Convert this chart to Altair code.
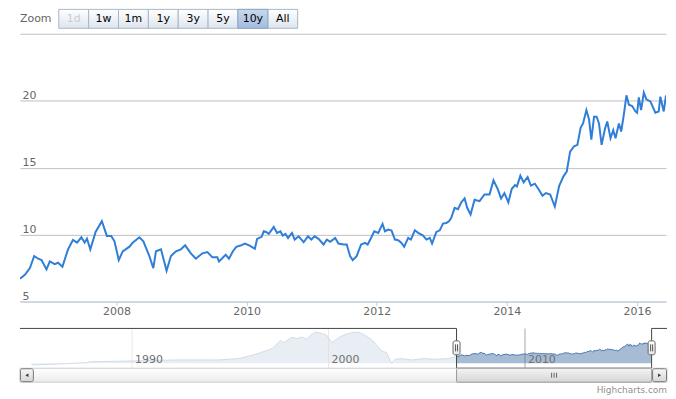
import altair as alt
import pandas as pd

# ---------------- data ----------------
# main series: decimal year, value
years = [2006.516, 2006.592, 2006.669, 2006.735, 2006.796, 2006.848, 2006.924, 2006.975, 2007.051, 2007.102,
         2007.169, 2007.255, 2007.331, 2007.393, 2007.46, 2007.51, 2007.546, 2007.598, 2007.679, 2007.775,
         2007.852, 2007.919, 2007.969, 2008.035, 2008.096, 2008.199, 2008.249, 2008.352, 2008.413, 2008.505,
         2008.566, 2008.607, 2008.684, 2008.77, 2008.837, 2008.914, 2008.99, 2009.056, 2009.143, 2009.22,
         2009.321, 2009.397, 2009.474, 2009.55, 2009.576, 2009.679, 2009.729, 2009.79, 2009.841, 2009.908,
         2009.974, 2010.046, 2010.127, 2010.162, 2010.23, 2010.265, 2010.3, 2010.341, 2010.418, 2010.468,
         2010.52, 2010.555, 2010.597, 2010.637, 2010.698, 2010.739, 2010.8, 2010.877, 2010.943, 2010.995,
         2011.045, 2011.106, 2011.183, 2011.233, 2011.285, 2011.362, 2011.412, 2011.489, 2011.539, 2011.591,
         2011.631, 2011.692, 2011.76, 2011.821, 2011.861, 2011.913, 2011.963, 2012.024, 2012.09, 2012.127,
         2012.178, 2012.228, 2012.28, 2012.331, 2012.381, 2012.422, 2012.484, 2012.525, 2012.586, 2012.637,
         2012.713, 2012.764, 2012.816, 2012.851, 2012.917, 2012.969, 2013.019, 2013.07, 2013.111, 2013.146,
         2013.198, 2013.249, 2013.299, 2013.351, 2013.391, 2013.443, 2013.504, 2013.581, 2013.657, 2013.734,
         2013.795, 2013.861, 2013.911, 2013.963, 2014.024, 2014.075, 2014.125, 2014.156, 2014.208, 2014.259,
         2014.32, 2014.37, 2014.431, 2014.473, 2014.549, 2014.6, 2014.667, 2014.738, 2014.805, 2014.871,
         2014.921, 2014.973, 2015.034, 2015.085, 2015.135, 2015.172, 2015.223, 2015.264, 2015.299, 2015.341,
         2015.38, 2015.417, 2015.457, 2015.509, 2015.544, 2015.594, 2015.636, 2015.671, 2015.723, 2015.758,
         2015.8, 2015.839, 2015.876, 2015.927, 2015.977, 2016.003, 2016.029, 2016.064, 2016.106, 2016.145,
         2016.207, 2016.283, 2016.335, 2016.36, 2016.412, 2016.447]
values = [6.7, 7.0, 7.5, 8.4, 8.2, 8.1, 7.4, 8.0, 7.8, 7.9,
          7.6, 8.9, 9.6, 9.4, 9.8, 9.4, 9.7, 8.9, 10.2, 11.0,
          9.9, 9.9, 9.5, 8.1, 8.75, 9.1, 9.4, 9.8, 9.5, 8.4,
          7.5, 8.75, 8.9, 7.3, 8.4, 8.75, 8.9, 9.2, 8.6, 8.2,
          8.6, 8.7, 8.3, 8.3, 8.0, 8.5, 8.2, 8.76, 9.09, 9.18,
          9.33, 9.18, 8.94, 9.68, 9.83, 10.25, 10.2, 10.05, 10.57, 10.13,
          10.25, 9.93, 10.05, 9.75, 10.13, 9.63, 9.87, 9.43, 9.87, 9.63,
          9.87, 9.68, 9.26, 9.63, 9.46, 9.75, 9.33, 9.26, 9.26, 8.39,
          8.09, 8.39, 9.26, 9.38, 9.26, 9.75, 10.25, 10.13, 10.8, 10.25,
          10.37, 10.3, 9.63, 9.58, 9.38, 9.09, 9.75, 9.63, 10.32, 10.13,
          9.93, 9.63, 9.75, 9.33, 10.2, 10.32, 10.82, 10.87, 10.99, 11.25,
          12.0, 11.9, 12.4, 12.7, 12.0, 11.5, 12.6, 12.5, 13.0, 13.0,
          14.05, 13.4, 12.7, 13.1, 12.4, 13.4, 13.7, 13.6, 14.4, 13.9,
          14.3, 13.65, 13.8, 13.5, 12.9, 13.1, 13.0, 12.1, 13.65, 14.35,
          14.7, 16.2, 16.6, 16.7, 18.0, 18.3, 19.3, 18.6, 17.1, 18.8,
          18.8, 18.3, 16.7, 17.9, 18.45, 17.2, 17.8, 17.2, 18.3, 17.7,
          19.0, 20.4, 19.7, 19.6, 19.2, 19.1, 20.25, 19.3, 20.6, 20.1,
          19.95, 19.1, 19.2, 20.3, 19.2, 20.4]

# long history shown in the navigator before the visible range
nav_years = [1984.88, 1986.32, 1987.73, 1987.84, 1990.0, 1992.4, 1994.42, 1995.44, 1996.11, 1996.54,
             1997.13, 1997.55, 1997.72, 1997.97, 1998.14, 1998.39, 1998.65, 1998.9, 1999.07, 1999.33,
             1999.66, 1999.91, 2000.17, 2000.51, 2000.85, 2001.18, 2001.52, 2001.86, 2002.19, 2002.45,
             2002.7, 2002.95, 2003.21, 2003.38, 2003.71, 2004.22, 2004.9, 2005.4, 2006.08]
nav_values = [-1.7, -0.7, 0.7, 1.5, 2.3, 3.4, 3.3, 4.7, 8.0, 10.7,
              14.7, 23.0, 20.7, 24.0, 26.3, 24.7, 26.3, 24.0, 28.0, 31.3,
              30.0, 28.0, 20.7, 25.7, 29.0, 30.7, 31.3, 28.0, 24.0, 18.0,
              12.3, 10.7, 0.0, 4.0, 4.7, 3.3, 4.7, 4.0, 4.7]

zoom_labels = ["1d", "1w", "1m", "1y", "3y", "5y", "10y", "All"]
selected_button = "10y"
disabled_button = "1d"

y_ticks = [5, 10, 15, 20, 25]
x_ticks = [2008, 2010, 2012, 2014, 2016]
nav_ticks = [1990, 2000, 2010]

view_start, view_end = years[0], years[-1]
nav_start, nav_end = 1984.29, 2017.23
nav_ymin, nav_ymax = -5, 35

# ---------------- layout constants ----------------
W, H = 649, 269
NAV_TOP, NAV_BOT = 296, 336
SB_TOP, SB_BOT = 336, 350
FONT = "DejaVu Sans"

one = pd.DataFrame({"k": [0]})


def grad(top, bottom):
    return {"gradient": "linear", "x1": 0, "x2": 0, "y1": 0, "y2": 1,
            "stops": [{"offset": 0, "color": top}, {"offset": 1, "color": bottom}]}


main_df = pd.DataFrame({"year": years, "value": values})
nav_df = pd.DataFrame({"year": nav_years + years, "value": nav_values + values})

nav_x = alt.Scale(domain=[nav_start, nav_end], range=[0, 650], nice=False, zero=False)
nav_y = alt.Scale(domain=[nav_ymin, nav_ymax], range=[NAV_BOT, NAV_TOP], nice=False, zero=False)

# ---------------- main chart ----------------
main_line = alt.Chart(main_df).mark_line(color="#2F7ED8", strokeWidth=2, clip=True).encode(
    x=alt.X("year:Q",
            scale=alt.Scale(domain=[view_start, view_end], nice=False, zero=False),
            axis=alt.Axis(values=x_ticks, format="d", title=None, grid=False,
                          labelColor="#666666", labelFontSize=11, labelFont=FONT,
                          domainColor="#C0D0E0", tickColor="#C0D0E0", tickSize=4,
                          labelPadding=0, labelFlush=False, labelOverlap=False)),
    y=alt.Y("value:Q",
            scale=alt.Scale(domain=[5, 25], nice=False, zero=False),
            axis=alt.Axis(values=y_ticks, title=None, grid=True, gridColor="#C0C0C0",
                          domain=False, ticks=False, tickSize=0, labelAlign="left",
                          labelBaseline="bottom", labelPadding=-2, labelColor="#666666",
                          labelFontSize=11, labelFont=FONT, labelOverlap=False,
                          labelExpr="datum.value == 25 ? '' : datum.label")),
)

# ---------------- zoom buttons ----------------
btn_df = pd.DataFrame({"label": zoom_labels})
band = alt.Scale(type="band", domain=zoom_labels, range=[39, 279], paddingInner=0, paddingOuter=0)

btn_rect = alt.Chart(btn_df).mark_rect(fill=grad("#FFFFFF", "#DDE5EE"), stroke="#A6B6C8", strokeWidth=1).encode(
    x=alt.X("label:N", scale=band, axis=None),
    y=alt.value(-24.5), y2=alt.value(-5.5))
btn_sel = alt.Chart(btn_df).transform_filter(alt.datum.label == selected_button).mark_rect(
    fill=grad("#C9D8EC", "#A2BCDF"), stroke="#8FA7C6", strokeWidth=1).encode(
    x=alt.X("label:N", scale=band, axis=None),
    y=alt.value(-24.5), y2=alt.value(-5.5))
btn_text = alt.Chart(btn_df).mark_text(fontSize=11, font=FONT, baseline="middle").encode(
    x=alt.X("label:N", scale=band, axis=None),
    y=alt.value(-15),
    text="label:N",
    color=alt.condition(f"datum.label == '{disabled_button}'", alt.value("#CCCCCC"), alt.value("#000000")))
zoom_text = alt.Chart(one).mark_text(fontSize=11, font=FONT, align="left", baseline="middle", color="#666666").encode(
    x=alt.value(0), y=alt.value(-15), text=alt.value("Zoom"))

# ---------------- navigator ----------------
nav_grid = alt.Chart(pd.DataFrame({"year": nav_ticks})).mark_rule(color="#A8A8A8", strokeWidth=1).encode(
    x=alt.X("year:Q", scale=nav_x, axis=None), y=alt.value(NAV_TOP), y2=alt.value(NAV_BOT))
nav_area = alt.Chart(nav_df).mark_area(color="#4572A7", fillOpacity=0.48).encode(
    x=alt.X("year:Q", scale=nav_x, axis=None),
    y=alt.Y("value:Q", scale=nav_y, axis=None),
    y2=alt.value(NAV_BOT))
nav_line = alt.Chart(nav_df).mark_line(color="#4572A7", strokeWidth=1).encode(
    x=alt.X("year:Q", scale=nav_x, axis=None),
    y=alt.Y("value:Q", scale=nav_y, axis=None))
mask_df = pd.DataFrame({"x0": [nav_start, view_end], "x1": [view_start, nav_end]})
nav_mask = alt.Chart(mask_df).mark_rect(color="#FFFFFF", opacity=0.75).encode(
    x=alt.X("x0:Q", scale=nav_x, axis=None), x2="x1:Q",
    y=alt.value(NAV_TOP), y2=alt.value(NAV_BOT))
nav_labels = alt.Chart(pd.DataFrame({"year": nav_ticks})).mark_text(
    align="left", baseline="middle", dx=3, fontSize=11, font=FONT, color="#707070").encode(
    x=alt.X("year:Q", scale=nav_x, axis=None), y=alt.value(328), text=alt.Text("year:Q", format="d"))
outline_df = pd.DataFrame({
    "year": [nav_start, view_start, view_start, view_end, view_end, nav_end],
    "value": [nav_ymax, nav_ymax, nav_ymin, nav_ymin, nav_ymax, nav_ymax],
    "o": list(range(6))})
nav_outline = alt.Chart(outline_df).mark_line(color="#444444", strokeWidth=1).encode(
    x=alt.X("year:Q", scale=nav_x, axis=None),
    y=alt.Y("value:Q", scale=nav_y, axis=None),
    order="o:Q")

# ---------------- scrollbar ----------------
sb_track = alt.Chart(one).mark_rect(fill=grad("#FFFFFF", "#EBEBEB"), stroke="#CCCCCC", strokeWidth=1).encode(
    x=alt.value(0), x2=alt.value(650), y=alt.value(SB_TOP), y2=alt.value(SB_BOT))
sel_df = pd.DataFrame({"x0": [view_start], "x1": [view_end], "mid": [(view_start + view_end) / 2]})
sb_thumb = alt.Chart(sel_df).mark_rect(fill=grad("#F4F4F4", "#D6D6D6"), stroke="#9A9A9A", strokeWidth=1,
                                       cornerRadius=1).encode(
    x=alt.X("x0:Q", scale=nav_x, axis=None), x2="x1:Q",
    y=alt.value(SB_TOP), y2=alt.value(SB_BOT))
grips = [alt.Chart(sel_df).mark_rule(color="#666666", strokeWidth=1, xOffset=off).encode(
    x=alt.X("mid:Q", scale=nav_x, axis=None), y=alt.value(340.5), y2=alt.value(345.5))
    for off in (-2.5, 0, 2.5)]
sb_left = alt.Chart(one).mark_rect(fill=grad("#F7F7F7", "#D5D5D5"), stroke="#777777", strokeWidth=1,
                                   cornerRadius=2).encode(
    x=alt.value(0.5), x2=alt.value(13.5), y=alt.value(SB_TOP + 0.5), y2=alt.value(SB_BOT - 0.5))
sb_right = alt.Chart(one).mark_rect(fill=grad("#F7F7F7", "#D5D5D5"), stroke="#777777", strokeWidth=1,
                                    cornerRadius=2).encode(
    x=alt.value(635.5), x2=alt.value(649.5), y=alt.value(SB_TOP + 0.5), y2=alt.value(SB_BOT - 0.5))
arr_left = alt.Chart(one).mark_point(shape="triangle-left", filled=True, color="#333333", size=12, opacity=1).encode(
    x=alt.value(7), y=alt.value(343))
arr_right = alt.Chart(one).mark_point(shape="triangle-right", filled=True, color="#333333", size=12, opacity=1).encode(
    x=alt.value(642.5), y=alt.value(343))

# handles
handle_df = pd.DataFrame({"year": [view_start, view_end]})
handles = alt.Chart(handle_df).mark_rect(fill=grad("#FFFFFF", "#E6E6E6"), stroke="#666666", strokeWidth=1,
                                         cornerRadius=2, xOffset=-3.5, x2Offset=3.5).encode(
    x=alt.X("year:Q", scale=nav_x, axis=None), x2="year:Q",
    y=alt.value(308.5), y2=alt.value(322.5))
handle_grips = [alt.Chart(handle_df).mark_rule(color="#555555", strokeWidth=1, xOffset=off).encode(
    x=alt.X("year:Q", scale=nav_x, axis=None), y=alt.value(312), y2=alt.value(319))
    for off in (-1, 1)]

credits = alt.Chart(one).mark_text(align="right", baseline="alphabetic", fontSize=9, font=FONT,
                                   color="#909090").encode(
    x=alt.value(650), y=alt.value(360.5), text=alt.value("Highcharts.com"))

chart = alt.layer(
    main_line,
    btn_rect, btn_sel, btn_text, zoom_text,
    nav_grid, nav_area, nav_line, nav_mask, nav_labels, nav_outline,
    sb_track, sb_thumb, *grips, sb_left, sb_right, arr_left, arr_right,
    handles, *handle_grips,
    credits,
).resolve_scale(x="independent", y="independent").properties(
    width=W, height=H,
    padding={"left": 12, "top": 25, "right": 2, "bottom": 94},
    autosize=alt.AutoSizeParams(type="none"),
).configure(font=FONT).configure_view(stroke=None)

chart.save("out.html", embed_options={"renderer": "svg", "actions": False})
